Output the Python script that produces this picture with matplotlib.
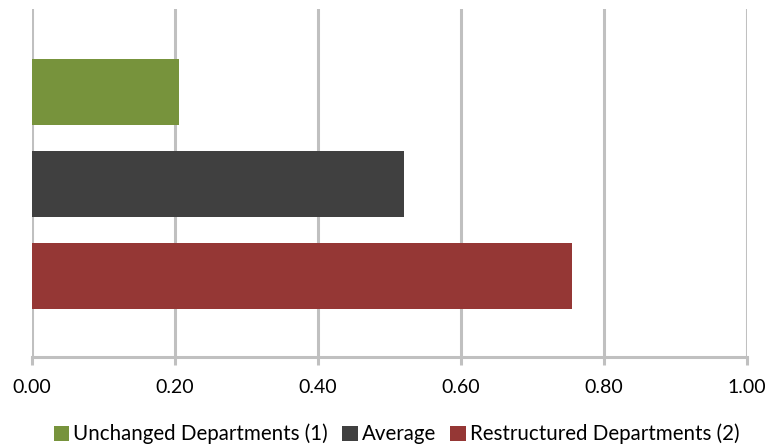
import matplotlib
matplotlib.use("Agg")
import matplotlib.pyplot as plt
from matplotlib.patches import Patch

# Data
series_names = ["Unchanged Departments (1)", "Average", "Restructured Departments (2)"]
series_values = [0.205, 0.52, 0.755]
series_colors = ["#77933C", "#404040", "#953735"]
tick_values = [0.0, 0.2, 0.4, 0.6, 0.8, 1.0]
tick_labels = ["0.00", "0.20", "0.40", "0.60", "0.80", "1.00"]

plt.rcParams["font.family"] = ["Lato", "DejaVu Sans"]

fig = plt.figure(figsize=(7.7, 4.47), dpi=100)
ax = fig.add_axes([32 / 770, 1 - 357 / 447, (747 - 32) / 770, (357 - 9) / 447])

positions = [2, 1, 0]
for pos, val, col in zip(positions, series_values, series_colors):
    ax.barh(pos, val, height=0.717, color=col, zorder=3)

ax.set_xlim(0, 1.0)
ax.set_ylim(-0.88, 2.90)
ax.set_xticks(tick_values)
ax.set_xticklabels(tick_labels, fontsize=14, color="#000000")
ax.set_yticks([])

grid_color = "#C0C0C0"
for x in tick_values:
    ax.axvline(x, color=grid_color, linewidth=2.2, zorder=1)

for side in ["top", "right", "left"]:
    ax.spines[side].set_visible(False)
ax.spines["bottom"].set_color(grid_color)
ax.spines["bottom"].set_linewidth(2.2)
ax.tick_params(axis="x", length=6, width=2.2, color=grid_color, pad=10)

handles = [Patch(facecolor=c, edgecolor="none") for c in series_colors]
fig.legend(handles, series_names, loc="center", bbox_to_anchor=(0.515, 1 - 434 / 447),
           ncol=3, frameon=False, fontsize=14.8, handlelength=0.75, handleheight=0.75,
           handletextpad=0.2, columnspacing=0.7, borderaxespad=0)

fig.savefig("out.png", dpi=100)
